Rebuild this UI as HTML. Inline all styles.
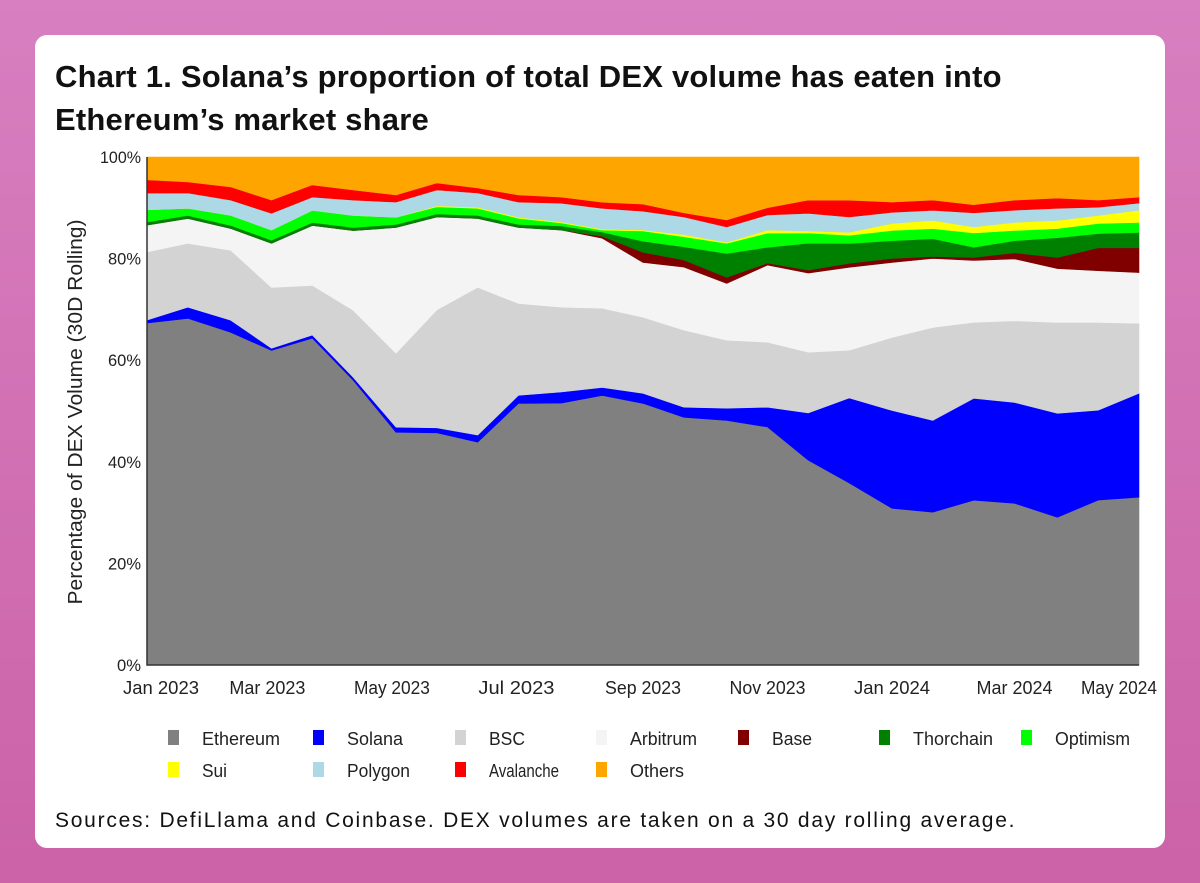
<!DOCTYPE html>
<html><head><meta charset="utf-8"><style>
html,body{margin:0;padding:0;width:1200px;height:883px;overflow:hidden;background:linear-gradient(180deg,#d77fc0 0%,#cc62a8 100%);}
.card{position:absolute;left:35px;top:35px;width:1130px;height:813px;background:#fff;border-radius:12px;}
.title{position:absolute;left:20px;top:20px;font:bold 31px "Liberation Sans",sans-serif;color:#111;line-height:43px;letter-spacing:0.2px;white-space:nowrap;}
.src{position:absolute;left:20px;top:774px;font:21px "Liberation Sans",sans-serif;color:#111;letter-spacing:1.75px;white-space:nowrap;}
svg{position:absolute;left:0;top:0;}
</style></head><body>
<div class="card">
<div class="title">Chart 1. Solana’s proportion of total DEX volume has eaten into<br>Ethereum’s market share</div>
<div class="src">Sources: DefiLlama and Coinbase. DEX volumes are taken on a 30 day rolling average.</div>
</div>
<svg id="chart" width="1200" height="883"></svg>
<script>
const days=[0,20,41,61,81,101,122,142,162,182,203,223,243,263,284,304,324,344,365,385,405,425,446,466,486];
const ethereum=[67.3,68.3,65.6,62.0,64.4,56.1,45.9,45.7,43.9,51.6,51.6,53.1,51.6,48.8,48.2,46.9,40.4,35.8,30.9,30.1,32.5,31.9,29.1,32.5,33.1];
const solana=[0.6,2.2,2.4,0.4,0.6,0.6,1.0,1.0,1.4,1.6,2.2,1.6,2.0,2.0,2.4,3.9,9.3,16.7,19.3,18.1,20.1,19.9,20.5,17.7,20.5];
const bsc=[13.4,12.6,13.8,12.0,9.8,13.2,14.6,23.2,29.1,18.1,16.7,15.6,15.0,15.2,13.4,12.8,12.0,9.4,14.4,18.3,15.0,16.1,17.9,17.3,13.8];
const arbitrum=[5.3,4.9,4.3,8.7,11.8,15.7,24.8,18.3,13.6,15.0,15.2,13.8,10.8,12.4,11.2,15.2,15.6,16.3,14.8,13.6,12.2,12.2,10.6,10.2,10.0];
const base=[0,0,0,0,0,0,0,0,0,0,0,0.4,2.0,1.4,1.2,0.4,0.6,0.8,0.8,0.4,0.6,1.2,2.2,4.5,4.9];
const thorchain=[0.6,0.6,0.6,0.6,0.6,0.6,0.6,0.6,0.6,0.6,0.8,0.8,2.2,2.6,4.7,3.1,5.3,3.9,3.5,3.5,2.0,2.4,3.9,2.8,3.0];
const optimism=[2.4,1.4,2.0,2.0,2.4,2.4,1.4,1.4,1.4,1.2,0.6,0.4,2.0,2.0,2.0,2.8,2.0,1.6,2.0,2.0,2.8,2.0,1.8,2.0,2.0];
const sui=[0,0,0,0,0,0,0,0.2,0.2,0.2,0.2,0.2,0.2,0.4,0.2,0.6,0.4,0.6,1.4,1.6,1.2,1.6,1.6,1.6,2.4];
const polygon=[3.3,3.0,3.0,3.3,2.6,3.0,3.0,3.1,2.8,3.0,3.7,4.1,3.7,3.5,3.0,3.0,3.5,3.0,2.2,2.0,2.8,2.4,2.4,1.6,1.4];
const avalanche=[2.6,2.2,2.6,2.6,2.4,2.0,1.4,1.4,1.0,1.4,1.2,1.2,1.4,0.8,1.4,1.4,2.6,3.3,2.0,2.0,1.6,2.0,2.0,1.4,1.2];
const others=[4.5,4.9,5.9,8.5,5.5,6.5,7.5,5.1,6.1,7.5,7.9,8.9,9.3,11.0,12.4,10.0,8.5,8.5,8.9,8.5,9.4,8.5,8.1,8.5,7.9];
const seriesNames=["Ethereum","Solana","BSC","Arbitrum","Base","Thorchain","Optimism","Sui","Polygon","Avalanche","Others"];
const seriesValues=[ethereum,solana,bsc,arbitrum,base,thorchain,optimism,sui,polygon,avalanche,others];
const seriesColors=["#808080","#0000ff","#d3d3d3","#f4f4f4","#800000","#008000","#00ff00","#ffff00","#add8e6","#ff0000","#ffa500"];
const xTickLabels=["Jan 2023","Mar 2023","May 2023","Jul 2023","Sep 2023","Nov 2023","Jan 2024","Mar 2024","May 2024"];
const xTickDays=[0,59,120,181,243,304,365,425,486];
const yTicks=[0,20,40,60,80,100];

const NS="http://www.w3.org/2000/svg";
const svg=document.getElementById('chart');
const L=147,R=1139,T=157,B=665,maxDay=486;
const xs=d=>L+(d/maxDay)*(R-L);
const ys=v=>B-(v/100)*(B-T);
function mk(tag,attrs){const e=document.createElementNS(NS,tag);for(const k in attrs)e.setAttribute(k,attrs[k]);return e;}

const n=days.length;
const totals=days.map((_,i)=>seriesValues.reduce((s,a)=>s+a[i],0));
let cum=new Array(n).fill(0);
const gA=mk('g',{});


svg.appendChild(gA);
seriesValues.forEach((arr,si)=>{
  const lower=cum.slice();
  const upper=cum.map((c,i)=>c+arr[i]/totals[i]*100);
  if(si===seriesValues.length-1) for(let i=0;i<n;i++) upper[i]=100;
  let d='';
  for(let i=0;i<n;i++) d+=(i?'L':'M')+xs(days[i]).toFixed(1)+','+ys(upper[i]).toFixed(1);
  for(let i=n-1;i>=0;i--) d+='L'+xs(days[i]).toFixed(1)+','+ys(lower[i]).toFixed(1);
  d+='Z';
  const p=mk('path',{d:d,fill:seriesColors[si],stroke:seriesColors[si],'stroke-width':0.6});
  
  
  gA.appendChild(p);
  cum=upper;
});

const ax=mk('path',{d:`M${L},${T}V${B}H${R}`,fill:'none',stroke:'#333','stroke-width':1.5});


svg.appendChild(ax);
const font='"Liberation Sans",sans-serif';
yTicks.forEach(v=>{
  const t=mk('text',{x:L-6,y:ys(v)+6,'text-anchor':'end','font-family':font,'font-size':17,fill:'#222',textLength:v===100?41:(v===0?24:33),lengthAdjust:'spacingAndGlyphs'});
  t.textContent=v+'%';
  
  
  svg.appendChild(t);
});
xTickLabels.forEach((lab,i)=>{
  const cx=xs(xTickDays[i])+(i===0?14:(i===xTickLabels.length-1?-20:0));
  const t=mk('text',{x:cx-38,y:694,'font-family':font,'font-size':18,fill:'#222',textLength:76,lengthAdjust:'spacingAndGlyphs'});
  t.textContent=lab;
  
  
  svg.appendChild(t);
});
const yt=mk('text',{x:-192.5,y:0,transform:'translate(82,412) rotate(-90)','font-family':font,'font-size':20,fill:'#222',textLength:385,lengthAdjust:'spacingAndGlyphs'});
yt.textContent='Percentage of DEX Volume (30D Rolling)';


svg.appendChild(yt);

const legX=[173,318,460,601,743,884,1026,173,318,460,601];
const legY=[738,738,738,738,738,738,738,770,770,770,770];
const legW=[78,56,36,67,40,80,75,25,63,70,54];
seriesNames.forEach((nm,i)=>{
  const g=mk('g',{});
  
  
  g.appendChild(mk('rect',{x:legX[i]-5,y:legY[i]-8,width:11,height:15,fill:seriesColors[i]}));
  const t=mk('text',{x:legX[i]+29,y:legY[i]+7,'font-family':font,'font-size':18,fill:'#222',textLength:legW[i],lengthAdjust:'spacingAndGlyphs'});
  t.textContent=nm;
  g.appendChild(t);
  svg.appendChild(g);
});
</script>
</body></html>
